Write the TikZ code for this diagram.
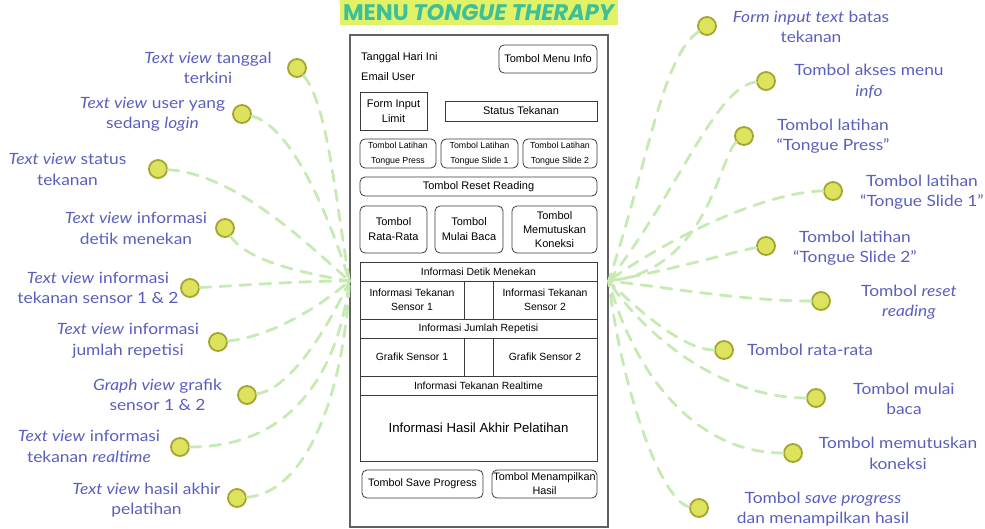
\documentclass[tikz,border=0pt]{standalone}
\usepackage{fontspec}
\setmainfont{Liberation Sans}
\newfontfamily\labelfont{Lato}[FakeStretch=1.12]
\newfontfamily\titlefont{Poppins}
\definecolor{linkgreen}{HTML}{C6EBB2}
\definecolor{dotfill}{HTML}{DDE35C}
\definecolor{dotedge}{HTML}{A2A630}
\definecolor{labelblue}{HTML}{5A5FBE}
\definecolor{titleteal}{HTML}{3CC09C}
\definecolor{titlebg}{HTML}{E2F266}
\definecolor{uiline}{HTML}{3A3A3A}
\begin{document}
\begin{tikzpicture}[x=1pt,y=-1pt,
  panel/.style={draw=uiline!80, line width=1.2pt, inner sep=0},
  cell/.style={draw=uiline, line width=0.8pt, inner sep=0, align=center,
    font=\fontsize{10.4}{14}\selectfont},
  btn/.style={cell, rounded corners=5pt},
  smallbtn/.style={btn, font=\fontsize{8.8}{15}\selectfont},
  uitext/.style={font=\fontsize{11}{15}\selectfont},
  dot/.style={circle, fill=dotfill, draw=dotedge, line width=1.8pt,
    minimum size=18pt, inner sep=0},
  desc/.style={align=center, text=labelblue, inner sep=0,
    font=\labelfont\fontsize{15.5}{20.5}\selectfont},
  link/.style={draw=linkgreen, line width=2.8pt, line cap=round,
    dash pattern=on 11pt off 9pt}
]
\useasboundingbox (0,0) rectangle (985,529);

% title
\node[fill=titlebg, minimum width=278pt, minimum height=25pt, inner sep=0,
  text=titleteal] (title) at (478.5,12.5)
  {\titlefont\fontsize{22.5}{24}\selectfont\bfseries MENU \itshape TONGUE THERAPY};

% phone screen
\node[panel, minimum width=258pt, minimum height=492pt] (panel) at (479,281) {};

\node[anchor=west, inner sep=0, uitext] (tanggal) at (361,58) {Tanggal Hari Ini};
\node[anchor=west, inner sep=0, uitext] (email) at (361,77) {Email User};
\node[btn, uitext, minimum width=98pt, minimum height=28pt] (menuinfo) at (548,59) {Tombol Menu Info};
\node[cell, uitext, minimum width=67pt, minimum height=38pt] (limit) at (393.5,111) {Form Input\\Limit};
\node[cell, uitext, minimum width=152pt, minimum height=20pt] (status) at (521,111) {Status Tekanan};

\node[smallbtn, minimum width=76pt, minimum height=29pt] (press) at (398,153.5) {Tombol Latihan\\Tongue Press};
\node[smallbtn, minimum width=77pt, minimum height=29pt] (slide1) at (479.5,153.5) {Tombol Latihan\\Tongue Slide 1};
\node[smallbtn, minimum width=74pt, minimum height=29pt] (slide2) at (560,153.5) {Tombol Latihan\\Tongue Slide 2};

\node[btn, uitext, minimum width=237pt, minimum height=19pt] (reset) at (478.5,186.5) {Tombol Reset Reading};

\node[btn, uitext, minimum width=67pt, minimum height=47pt] (rata) at (393.5,229.5) {Tombol\\Rata-Rata};
\node[btn, uitext, minimum width=68pt, minimum height=47pt] (mulai) at (469,229.5) {Tombol\\Mulai Baca};
\node[btn, font=\fontsize{11}{14}\selectfont, minimum width=85pt, minimum height=47pt] (putus) at (554.5,229.5) {Tombol\\Memutuskan\\Koneksi};

% information table
\node[cell, minimum width=237pt, minimum height=19pt] (detik) at (478.5,271.5) {Informasi Detik Menekan};
\node[cell, minimum width=104pt, minimum height=38pt] (sensor1) at (412,300) {Informasi Tekanan\\Sensor 1};
\node[cell, minimum width=29pt, minimum height=38pt] (gapa) at (478.5,300) {};
\node[cell, minimum width=104pt, minimum height=38pt] (sensor2) at (545,300) {Informasi Tekanan\\Sensor 2};
\node[cell, minimum width=237pt, minimum height=19pt] (repetisi) at (478.5,328.5) {Informasi Jumlah Repetisi};
\node[cell, minimum width=104pt, minimum height=38pt] (grafik1) at (412,357) {Grafik Sensor 1};
\node[cell, minimum width=29pt, minimum height=38pt] (gapb) at (478.5,357) {};
\node[cell, minimum width=104pt, minimum height=38pt] (grafik2) at (545,357) {Grafik Sensor 2};
\node[cell, minimum width=237pt, minimum height=19pt] (realtime) at (478.5,385.5) {Informasi Tekanan Realtime};
\node[cell, font=\fontsize{13.2}{15}\selectfont, minimum width=237pt, minimum height=66pt] (hasil) at (478.5,428) {Informasi Hasil Akhir Pelatihan};

\node[btn, font=\fontsize{10.8}{14}\selectfont, minimum width=121pt, minimum height=28pt] (save) at (422.5,484) {Tombol Save Progress};
\node[btn, font=\fontsize{10.8}{14}\selectfont, minimum width=105pt, minimum height=28pt] (tampil) at (544.5,484) {Tombol Menampilkan\\Hasil};

% left-hand markers and descriptions
\node[dot] (l1) at (297,68) {};
\node[dot] (l2) at (242,114) {};
\node[dot] (l3) at (158,169) {};
\node[dot] (l4) at (225,228) {};
\node[dot] (l5) at (190,288) {};
\node[dot] (l6) at (218,342) {};
\node[dot] (l7) at (247,395) {};
\node[dot] (l8) at (180,447) {};
\node[dot] (l9) at (237,498) {};

\node[desc] (tl1) at (208,68) {\textit{Text view} tanggal\\terkini};
\node[desc] (tl2) at (152.5,114.5) {\textit{Text view} user yang\\sedang \textit{login}};
\node[desc] (tl3) at (67.5,169.5) {\textit{Text view} status\\tekanan};
\node[desc] (tl4) at (136,228.5) {\textit{Text view} informasi\\detik menekan};
\node[desc] (tl5) at (98,288) {\textit{Text view} informasi\\tekanan sensor 1 \& 2};
\node[desc] (tl6) at (128,341) {\textit{Text view} informasi\\jumlah repetisi};
\node[desc] (tl7) at (157.5,395) {\textit{Graph view} grafik\\sensor 1 \& 2};
\node[desc] (tl8) at (89,446.5) {\textit{Text view} informasi\\tekanan \textit{realtime}};
\node[desc] (tl9) at (146.5,500) {\textit{Text view} hasil akhir\\pelatihan};

% right-hand markers and descriptions
\node[dot] (r1) at (707,26) {};
\node[dot] (r2) at (766,81) {};
\node[dot] (r3) at (744,136) {};
\node[dot] (r4) at (833,191) {};
\node[dot] (r5) at (766,246) {};
\node[dot] (r6) at (821,301) {};
\node[dot] (r7) at (724,350) {};
\node[dot] (r8) at (816,398) {};
\node[dot] (r9) at (793,453) {};
\node[dot] (r10) at (699,508) {};

\node[desc] (tr1) at (811,27) {\textit{Form input text} batas\\tekanan};
\node[desc] (tr2) at (869,81.5) {Tombol akses menu\\\textit{info}};
\node[desc] (tr3) at (833,136) {Tombol latihan\\“Tongue Press”};
\node[desc] (tr4) at (922,192) {Tombol latihan\\“Tongue Slide 1”};
\node[desc] (tr5) at (855,248) {Tombol latihan\\“Tongue Slide 2”};
\node[desc] (tr6) at (909,302) {Tombol \textit{reset}\\\textit{reading}};
\node[desc] (tr7) at (810,350) {Tombol rata-rata};
\node[desc] (tr8) at (904,399) {Tombol mulai\\baca};
\node[desc] (tr9) at (898,453.5) {Tombol memutuskan\\koneksi};
\node[desc] (tr10) at (823,509) {Tombol \textit{save progress}\\dan menampilkan hasil};

% connectors converging on the screen sides
\path[link] (l1) .. controls +(30,35) and +(-15,-90) .. (panel.west);
\path[link] (l2) .. controls +(45,10) and +(-25,-80) .. (panel.west);
\path[link] (l3) .. controls +(75,5) and +(-50,-45) .. (panel.west);
\path[link] (l4) .. controls +(20,30) and +(-60,-10) .. (panel.west);
\path[link] (l5) .. controls +(60,-3) and +(-50,0) .. (panel.west);
\path[link] (l6) .. controls +(50,-5) and +(-35,30) .. (panel.west);
\path[link] (l7) .. controls +(40,-5) and +(-25,55) .. (panel.west);
\path[link] (l8) .. controls +(120,0) and +(-10,80) .. (panel.west);
\path[link] (l9) .. controls +(70,-5) and +(-5,110) .. (panel.west);

\path[link] (r1) .. controls +(-45,30) and +(40,-120) .. (panel.east);
\path[link] (r2) .. controls +(-50,5) and +(70,-90) .. (panel.east);
\path[link] (r3) .. controls +(-25,20) and +(100,-10) .. (panel.east);
\path[link] (r4) .. controls +(-60,0) and +(70,-50) .. (panel.east);
\path[link] (r5) .. controls +(-30,5) and +(60,-10) .. (panel.east);
\path[link] (r6) .. controls +(-80,0) and +(50,5) .. (panel.east);
\path[link] (r7) .. controls +(-40,0) and +(30,30) .. (panel.east);
\path[link] (r8) .. controls +(-90,0) and +(40,60) .. (panel.east);
\path[link] (r9) .. controls +(-100,0) and +(25,90) .. (panel.east);
\path[link] (r10) .. controls +(-35,-5) and +(15,120) .. (panel.east);
\end{tikzpicture}
\end{document}
